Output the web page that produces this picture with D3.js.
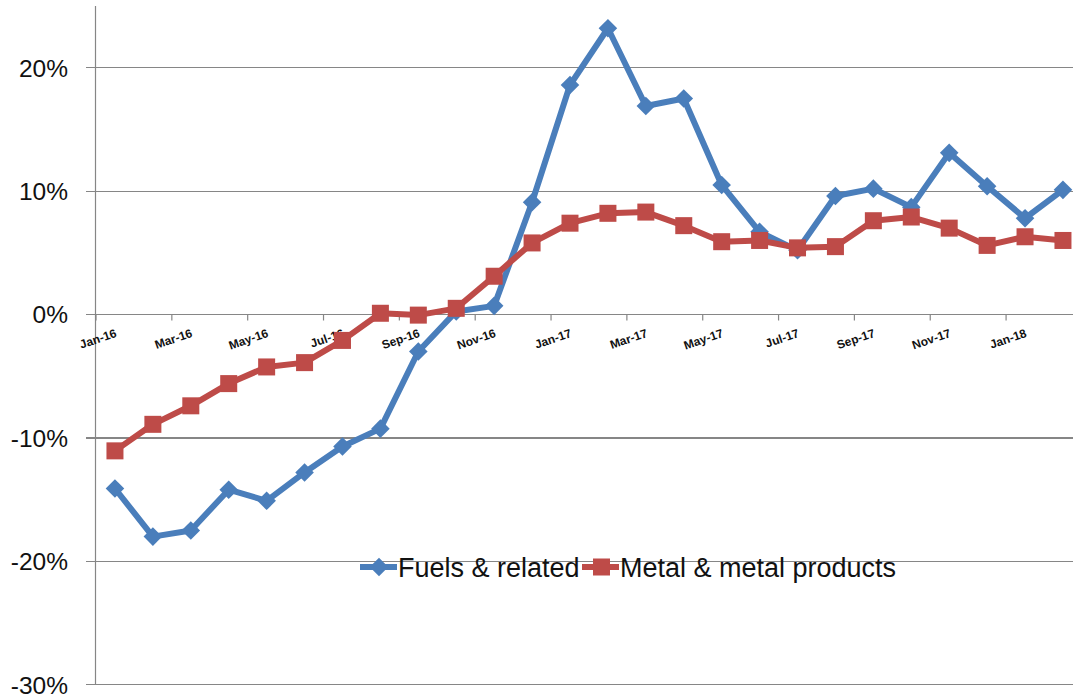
<!DOCTYPE html>
<html><head><meta charset="utf-8">
<script src="https://cdn.jsdelivr.net/npm/d3@7"></script>
<style>html,body{margin:0;padding:0;background:#fff;overflow:hidden}</style>
</head><body>
<svg id="c" width="1073" height="698"></svg>
<script>
const months = ["Jan-16","Feb-16","Mar-16","Apr-16","May-16","Jun-16","Jul-16","Aug-16","Sep-16","Oct-16","Nov-16","Dec-16",
  "Jan-17","Feb-17","Mar-17","Apr-17","May-17","Jun-17","Jul-17","Aug-17","Sep-17","Oct-17","Nov-17","Dec-17","Jan-18","Feb-18"];
const fuels = [-14.1,-18.0,-17.5,-14.2,-15.1,-12.8,-10.7,-9.25,-3.0,0.25,0.7,9.1,
  18.6,23.2,16.9,17.5,10.5,6.7,5.2,9.6,10.2,8.7,13.1,10.4,7.8,10.1];
const metals = [-11.05,-8.9,-7.4,-5.6,-4.25,-3.9,-2.1,0.1,-0.05,0.5,3.1,5.8,
  7.4,8.2,8.3,7.2,5.9,6.0,5.4,5.5,7.6,7.9,7.0,5.6,6.3,6.0];
const yTicks = [-30,-20,-10,0,10,20];
const seriesNames = ["Fuels & related","Metal & metal products"];
const colors = ["#4A7EBB","#BE4B48"];

const svg = d3.select("#c");
const left = 96, step = 37.92;
const x = d3.scaleBand().domain(months).range([left, left + step*months.length]).paddingInner(0).paddingOuter(0);
const cx = d => x(d) + x.bandwidth()/2;
const y = d3.scaleLinear().domain([-30,25]).range([684.7, 6]);

const grid = "#868686";
svg.append("g").selectAll("line").data(yTicks).join("line")
  .attr("x1",86).attr("x2",1073).attr("y1",d=>y(d)).attr("y2",d=>y(d))
  .attr("stroke",grid).attr("stroke-width",1.2).attr("shape-rendering","crispEdges");
svg.append("line").attr("x1",left-0.5).attr("x2",left-0.5).attr("y1",y(25)).attr("y2",y(-30))
  .attr("stroke",grid).attr("stroke-width",1.2);
svg.append("g").selectAll("text").data(yTicks).join("text")
  .attr("x",68).attr("y",d=>y(d)).attr("dy","0.36em").attr("text-anchor","end")
  .attr("font-family","Liberation Sans, Arial, sans-serif").attr("font-size",24.5).attr("fill","#111")
  .text(d=>d+"%");
const tickIdx = d3.range(0, months.length+1, 2);
svg.append("g").selectAll("line").data(tickIdx).join("line")
  .attr("x1",i=>left+i*step).attr("x2",i=>left+i*step).attr("y1",y(0)).attr("y2",y(0)+6)
  .attr("stroke",grid).attr("stroke-width",1.2);
svg.append("g").selectAll("text").data(months.filter((m,i)=>i%2===0)).join("text")
  .attr("transform",d=>`translate(${cx(d)+1},${y(0)+18}) rotate(-19)`)
  .attr("dy","0.35em").attr("text-anchor","end")
  .attr("font-family","Liberation Sans, Arial, sans-serif").attr("font-size",12).attr("font-weight","bold").attr("fill","#111")
  .text(d=>d);

const line = d3.line().x((d,i)=>cx(months[i])).y(d=>y(d));
const diamond = d3.symbol().type(d3.symbolDiamond2).size(220);
function drawSeries(vals, color, marker){
  svg.append("path").datum(vals).attr("d",line).attr("fill","none").attr("stroke",color)
    .attr("stroke-width",6).attr("stroke-linejoin","round");
  const g = svg.append("g");
  if(marker==="diamond"){
    g.selectAll("path").data(vals).join("path").attr("d",diamond)
      .attr("transform",(d,i)=>`translate(${cx(months[i])},${y(d)})`).attr("fill",color);
  } else {
    g.selectAll("rect").data(vals).join("rect")
      .attr("x",(d,i)=>cx(months[i])-8.5).attr("y",d=>y(d)-8.5).attr("width",17).attr("height",17).attr("fill",color);
  }
}
drawSeries(fuels, colors[0], "diamond");
drawSeries(metals, colors[1], "square");

const legY = 567;
const leg = [{x0:360, name:seriesNames[0], c:colors[0], m:"diamond"},{x0:582, name:seriesNames[1], c:colors[1], m:"square"}];
leg.forEach(l=>{
  svg.append("line").attr("x1",l.x0).attr("x2",l.x0+37).attr("y1",legY).attr("y2",legY)
    .attr("stroke",l.c).attr("stroke-width",6);
  if(l.m==="diamond") svg.append("path").attr("d",diamond).attr("transform",`translate(${l.x0+19},${legY})`).attr("fill",l.c);
  else svg.append("rect").attr("x",l.x0+11).attr("y",legY-8.5).attr("width",17).attr("height",17).attr("fill",l.c);
  svg.append("text").attr("x",l.x0+38).attr("y",legY).attr("dy","0.36em")
    .attr("font-family","Liberation Sans, Arial, sans-serif").attr("font-size",27).attr("fill","#111").text(l.name);
});
</script>
</body></html>
